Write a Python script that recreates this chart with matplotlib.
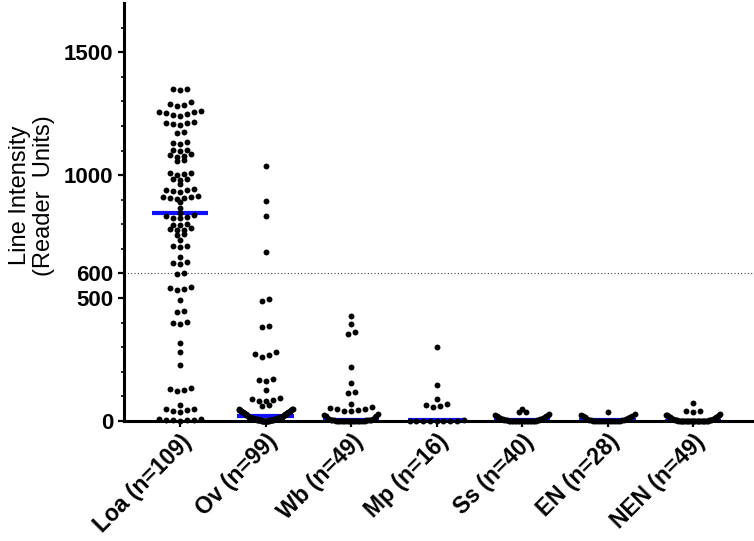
import numpy as np
import matplotlib.pyplot as plt
from matplotlib.ticker import FixedLocator

plt.rcParams['font.family'] = ['Liberation Sans', 'DejaVu Sans']

groups = ["Loa (n=109)", "Ov (n=99)", "Wb (n=49)", "Mp (n=16)",
          "Ss (n=40)", "EN (n=28)", "NEN (n=49)"]

loa = [1350, 1349, 1348, 1298, 1290, 1286, 1282,
       1262, 1258, 1255, 1252, 1248, 1244, 1240,
       1215, 1212, 1210, 1207, 1204, 1176, 1172, 1134, 1130, 1126,
       1104, 1101, 1098, 1084, 1081, 1078, 1075, 1061, 1058,
       1010, 1007, 1004, 1001, 986, 983, 980, 962,
       944, 941, 938, 935, 932, 914, 912, 910, 908, 906, 904, 890, 866,
       845,
       836, 833, 830, 827, 824, 802, 799, 796, 784, 781, 778, 775,
       760, 755, 735, 713, 710, 707, 667, 645, 642, 639, 600, 597,
       543, 540, 537, 534, 492, 448, 445, 402, 398, 394, 317, 280, 228,
       135, 131, 127, 123, 65, 50, 47, 44, 41, 38,
       10, 8, 6, 5, 4, 3, 2]
ov = [1037, 895, 835, 686, 495, 490, 388, 384, 282, 274, 268, 262,
      172, 168, 164, 126, 92, 89, 86, 83, 80, 64, 60,
      50, 48, 47, 46, 45, 44, 42, 41, 40, 39, 38, 37, 36, 35, 34, 33,
      32, 31, 30, 29, 28, 27, 26, 25, 24, 23, 20,
      19, 18, 18, 17, 16, 16, 15, 15, 14, 14, 13, 13, 12, 12, 11, 11,
      10, 10, 10, 9, 9, 8, 8, 8, 7, 7, 6, 6, 6, 5, 5, 5, 4, 4, 4,
      3, 3, 3, 2, 2, 2, 1, 1, 1, 1, 0, 0, 0, 0]
wb = [427, 394, 360, 352, 220, 156, 118, 114, 69,
      55, 52, 50, 48, 45, 42, 39,
      28, 25, 22, 19, 16, 13, 10, 8, 5, 5, 4, 4, 3, 3, 3, 2, 2, 2, 2,
      1, 1, 1, 1, 1, 0, 0, 0, 0, 0, 0, 0, 0, 0]
mp = [302, 146, 88, 70, 65, 60, 58, 3, 2, 2, 1, 1, 0, 0, 0, 0]
ss = [50, 38, 38, 28, 26, 24, 22, 20, 18, 16, 14, 12, 10, 9, 8, 7, 6,
      5, 4, 3, 3, 2, 2, 1, 1, 1, 1, 0, 0, 0, 0, 0, 0, 0, 0, 0, 0, 0, 0, 0]
en = [38, 27, 25, 22, 20, 18, 15, 12, 10, 8, 6, 5, 4, 3, 2, 2, 1, 1, 1,
      0, 0, 0, 0, 0, 0, 0, 0, 0]
nen = [74, 42, 40, 38, 27, 26, 25, 24, 22, 20, 18, 16, 14, 12, 10, 9, 8,
       7, 6, 5, 4, 4, 3, 3, 2, 2, 2, 1, 1, 1, 1, 1,
       0, 0, 0, 0, 0, 0, 0, 0, 0, 0, 0, 0, 0, 0, 0, 0, 0]
data = [loa, ov, wb, mp, ss, en, nen]

y_major = [0, 500, 600, 1000, 1500]
y_minor = [100, 200, 300, 400, 700, 800, 900, 1100, 1200, 1300, 1400, 1600]
threshold = 600


def row_offsets(vals_px, gap_px=2.0, span_px=15.0, step_px=7.0, half_w=27.0):
    # Prism-style rows: chained close values share a row, lowest in the middle
    vals_px = np.asarray(vals_px, dtype=float)
    n = len(vals_px)
    order = np.argsort(vals_px, kind="stable")
    offs = np.zeros(n)
    i = 0
    while i < n:
        start = vals_px[order[i]]
        j = i + 1
        while (j < n and vals_px[order[j]] - vals_px[order[j - 1]] < gap_px
               and vals_px[order[j]] - start < span_px):
            j += 1
        idx = order[i:j]
        k = len(idx)
        step = step_px if k == 1 else min(step_px, 2 * half_w / (k - 1))
        slots = (np.arange(k) - (k - 1) / 2) * step
        offs[idx] = slots[np.argsort(np.abs(slots), kind="stable")]
        i = j
    return offs


fig = plt.figure(figsize=(7.54, 5.41), dpi=100)
ax = fig.add_axes([0.1645, 0.2218, 0.8355, 0.7727])
ax.set_xlim(-0.655, 6.713)
ax.set_ylim(0, 1700)

x0, y0 = ax.transData.transform((0, 0))
x1, y1 = ax.transData.transform((1, 1))
px_x = x1 - x0
px_y = y1 - y0

for i, vals in enumerate(data):
    v = np.array(vals, dtype=float)
    offs = row_offsets(v * px_y)
    ax.scatter(i + offs / px_x, v, s=18, color="black", linewidths=0,
               zorder=3, clip_on=False)
    ax.hlines(np.median(v), i - 0.33, i + 0.33, color="#1010ff", lw=3,
              zorder=2)

ax.axhline(threshold, color="#444444", lw=0.8, ls=(0, (1, 2)), zorder=1)

for side in ["top", "right"]:
    ax.spines[side].set_visible(False)
for side in ["left", "bottom"]:
    ax.spines[side].set_linewidth(2.2)
ax.spines["bottom"].set_zorder(4)

ax.yaxis.set_major_locator(FixedLocator(y_major))
ax.yaxis.set_minor_locator(FixedLocator(y_minor))
ax.tick_params(axis="y", which="major", length=4.5, width=1.6, pad=3,
               labelsize=16)
ax.tick_params(axis="y", which="minor", length=2.5, width=1.2)
ax.tick_params(axis="x", length=4.5, width=1.6, pad=2, labelsize=16.5)
for lab in ax.get_yticklabels():
    lab.set_fontweight("bold")

ax.set_xticks(range(len(groups)))
ax.set_xticklabels(groups, rotation=45, ha="right", va="top",
                   rotation_mode="anchor", fontweight="bold")

ax.set_ylabel("Line Intensity\n(Reader  Units)", fontsize=17, linespacing=1.1)
ax.yaxis.set_label_coords(-0.11, 0.54)

fig.savefig("out.png", dpi=100)
